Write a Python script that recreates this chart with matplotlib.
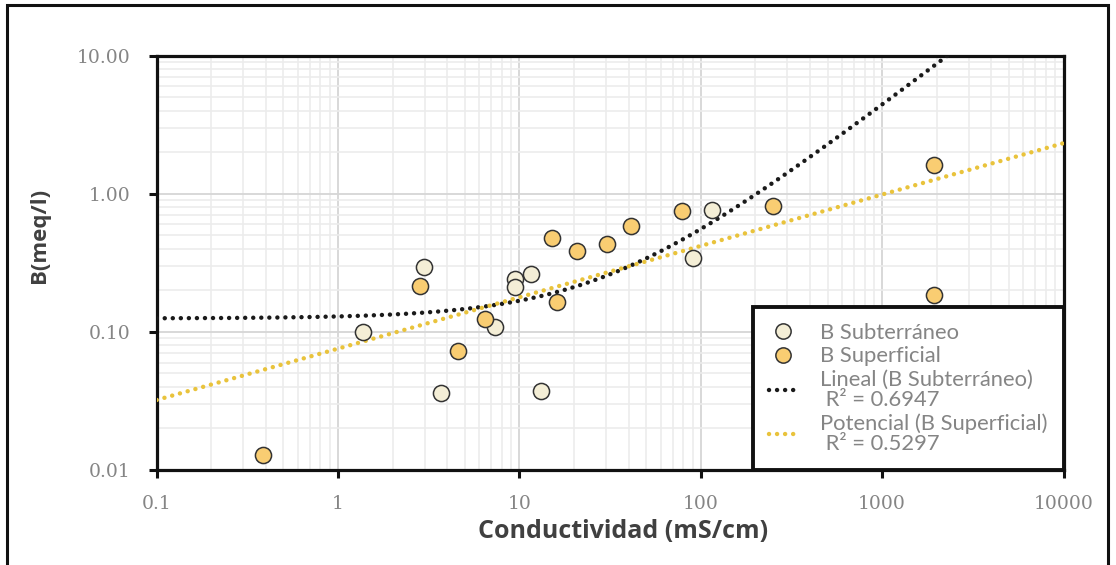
import numpy as np
import matplotlib
matplotlib.use('Agg')
import matplotlib.pyplot as plt
from matplotlib.lines import Line2D
from matplotlib.patches import Rectangle
from matplotlib.ticker import FixedLocator, FixedFormatter, NullFormatter, LogLocator

# B Subterraneo (cream points)
sub_x = [1.37, 2.99, 3.71, 7.36, 9.48, 9.48, 11.6, 13.1, 90.8, 115]
sub_y = [0.100, 0.293, 0.0363, 0.108, 0.240, 0.212, 0.264, 0.0373, 0.341, 0.758]

# B Superficial (orange points)
sup_x = [0.387, 2.82, 4.56, 6.43, 15.1, 16.1, 20.7, 30.3, 41.2, 78.7, 249, 1930, 1930]
sup_y = [0.0129, 0.215, 0.0731, 0.1245, 0.481, 0.165, 0.383, 0.430, 0.587, 0.753, 0.819, 1.61, 0.184]

x_ticks = [0.1, 1, 10, 100, 1000, 10000]
x_labels = ["0.1", "1", "10", "100", "1000", "10000"]
y_ticks = [0.01, 0.1, 1, 10]
y_labels = ["0.01", "0.10", "1.00", "10.00"]

leg_labels = ["B Subterráneo", "B Superficial",
              "Lineal (B Subterráneo)\n R² = 0.6947",
              "Potencial (B Superficial)\n R² = 0.5297"]

c_sub = "#f4eed6"
c_sup = "#f9cd72"
c_lin = "#1a1a1a"
c_pow = "#e9c33c"
grey = "#858585"

fig = plt.figure(figsize=(11.16, 5.65), dpi=100)
ax = fig.add_axes([0.1404, 0.1681, 0.8126, 0.7336])

ax.set_xscale('log')
ax.set_yscale('log')
ax.set_xlim(0.1, 10000)
ax.set_ylim(0.01, 10)

# trend lines fitted from the points
xx = np.logspace(-1, 4, 400)
a, b = np.polyfit(sub_x, sub_y, 1)
ax.plot(xx, a * xx + b, color=c_lin, lw=3.2, linestyle=(0, (0.01, 1.8)),
        dash_capstyle='round', zorder=3)
k, c = np.polyfit(np.log10(sup_x), np.log10(sup_y), 1)
ax.plot(xx, 10 ** c * xx ** k, color=c_pow, lw=3.2, linestyle=(0, (0.01, 1.8)),
        dash_capstyle='round', zorder=3)

ax.scatter(sub_x, sub_y, s=135, c=c_sub, edgecolors="#333333", linewidths=1.1, zorder=4)
ax.scatter(sup_x, sup_y, s=135, c=c_sup, edgecolors="#333333", linewidths=1.1, zorder=4)

# grid
ax.xaxis.set_minor_locator(LogLocator(base=10, subs=np.arange(2, 10)))
ax.yaxis.set_minor_locator(LogLocator(base=10, subs=np.arange(2, 10)))
ax.xaxis.set_minor_formatter(NullFormatter())
ax.yaxis.set_minor_formatter(NullFormatter())
ax.grid(True, which='major', color='#d6d6d6', lw=1.3, zorder=0)
ax.grid(True, which='minor', color='#ececec', lw=1.2, zorder=0)
ax.set_axisbelow(True)

ax.xaxis.set_major_locator(FixedLocator(x_ticks))
ax.xaxis.set_major_formatter(FixedFormatter(x_labels))
ax.yaxis.set_major_locator(FixedLocator(y_ticks))
ax.yaxis.set_major_formatter(FixedFormatter(y_labels))
ax.tick_params(which='major', direction='out', length=6, width=2.2, color='#111111',
               labelcolor=grey, labelsize=13.5)
ax.tick_params(axis='y', pad=13)
ax.tick_params(axis='x', pad=12)
ax.tick_params(which='minor', length=0)
for lab in ax.get_xticklabels() + ax.get_yticklabels():
    lab.set_family('DejaVu Serif')

for s in ax.spines.values():
    s.set_linewidth(2.3)
    s.set_color('#111111')

ax.set_xlabel("Conductividad (mS/cm)", fontsize=18, fontweight='bold', color='#404040',
              family='Open Sans')
ax.xaxis.set_label_coords(0.514, -0.118)
ax.set_ylabel("B(meq/l)", fontsize=16, fontweight='bold', color='#404040',
              family='Open Sans')
ax.yaxis.set_label_coords(-0.118, 0.567)

handles = [
    Line2D([], [], marker='o', ls='none', ms=11, mfc=c_sub, mec='#333333', mew=1.1),
    Line2D([], [], marker='o', ls='none', ms=11, mfc=c_sup, mec='#333333', mew=1.1),
    Line2D([], [], color=c_lin, lw=3.2, ls=(0, (0.01, 1.8)), dash_capstyle='round'),
    Line2D([], [], color=c_pow, lw=3.2, ls=(0, (0.01, 1.8)), dash_capstyle='round'),
]
leg = ax.legend(handles, leg_labels, loc='lower right', bbox_to_anchor=(1.0, 0.0),
                frameon=True, fancybox=False, borderaxespad=0, handlelength=1.3,
                handletextpad=1.0, labelspacing=0.15, borderpad=0.75,
                prop={'family': 'Lato', 'size': 15.8})
fr = leg.get_frame()
fr.set_edgecolor('#111111')
fr.set_linewidth(2.8)
fr.set_alpha(1)
for t in leg.get_texts():
    t.set_color(grey)
    t.set_linespacing(1.0)
leg.set_zorder(6)

# outer frame of the picture
fig.patches.append(Rectangle((7 / 1116, -0.02), 1101 / 1116, 1.02 - 5 / 565,
                             transform=fig.transFigure, fill=False, lw=2.2,
                             edgecolor='#111111'))

fig.savefig('out.png', dpi=100)
